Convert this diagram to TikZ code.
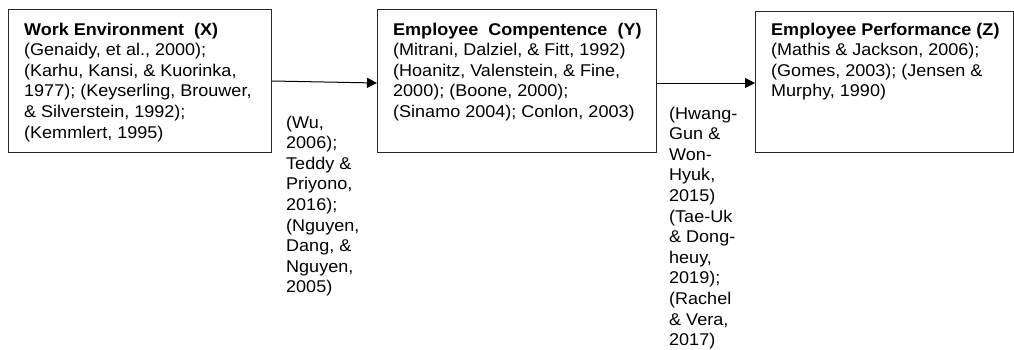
\documentclass[tikz,border=0pt]{standalone}
\usepackage{fontspec}
\setmainfont[FakeStretch=1.06]{Liberation Sans}
\usetikzlibrary{arrows.meta,calc}
\begin{document}
\begin{tikzpicture}[x=1pt,y=-1pt,
  box/.style={draw=black!85, line width=1.1pt, anchor=north west, inner sep=0pt},
  txt/.style={anchor=base west, inner sep=0pt, font=\fontsize{17}{20.6}\selectfont},
  conn/.style={line width=1pt, -{Triangle[length=10pt,width=10pt]}}]
\useasboundingbox (0,0) rectangle (1014,349);
\node[box, minimum width=263pt, minimum height=143pt] (X) at (8,9) {};
\node[box, minimum width=279pt, minimum height=143pt] (Y) at (377,9) {};
\node[box, minimum width=258pt, minimum height=141pt] (Z) at (755,11) {};
\node[txt] (Xt) at (24,35) {\begin{tabular}[t]{@{}l@{}}\textbf{Work Environment\ \ (X)}\\(Genaidy, et al., 2000);\\(Karhu, Kansi, \& Kuorinka,\\1977); (Keyserling,\ Brouwer,\\\& Silverstein,\ 1992);\\(Kemmlert, 1995)\end{tabular}};
\node[txt] (Yt) at (393,35) {\begin{tabular}[t]{@{}l@{}}\textbf{Employee\ \ Compentence\ \ (Y)}\\(Mitrani, Dalziel,\ \& Fitt, 1992)\\(Hoanitz, Valenstein, \& Fine,\\2000); (Boone, 2000);\\(Sinamo 2004); Conlon, 2003)\end{tabular}};
\node[txt] (Zt) at (771,35) {\begin{tabular}[t]{@{}l@{}}\textbf{Employee Performance (Z)}\\(Mathis \& Jackson, 2006);\\(Gomes, 2003); (Jensen \&\\Murphy, 1990)\end{tabular}};
\node[txt] (L1) at (286,128) {\begin{tabular}[t]{@{}l@{}}(Wu,\\2006);\\Teddy \&\\Priyono,\\2016);\\(Nguyen,\\Dang, \&\\Nguyen,\\2005)\end{tabular}};
\node[txt] (L2) at (669,119) {\begin{tabular}[t]{@{}l@{}}(Hwang-\\Gun \&\\Won-\\Hyuk,\\2015)\\(Tae-Uk\\\& Dong-\\heuy,\\2019);\\(Rachel\\\& Vera,\\2017)\end{tabular}};
\draw[conn] ($(X.north east)+(0,72)$) -- ($(Y.north west)+(0,74)$);
\draw[conn] ($(Y.north east)+(0,74)$) -- ($(Z.north west)+(0,72)$);
\end{tikzpicture}
\end{document}
